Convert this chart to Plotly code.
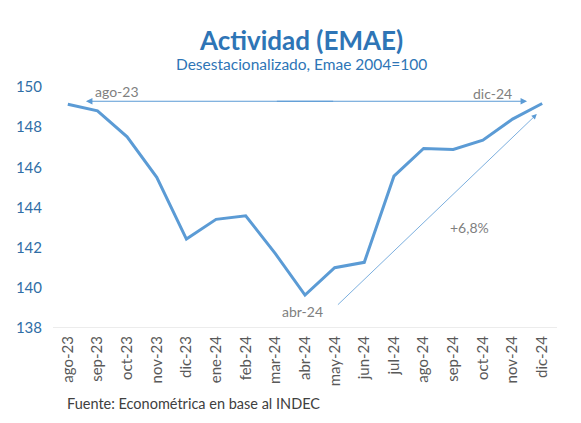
import plotly.graph_objects as go

# Data
months = ["ago-23", "sep-23", "oct-23", "nov-23", "dic-23", "ene-24", "feb-24", "mar-24",
          "abr-24", "may-24", "jun-24", "jul-24", "ago-24", "sep-24", "oct-24", "nov-24", "dic-24"]
emae = [149.14, 148.81, 147.52, 145.5, 142.43, 143.41, 143.59, 141.7,
        139.64, 141.0, 141.27, 145.56, 146.94, 146.89, 147.35, 148.4, 149.18]
y_ticks = [138, 140, 142, 144, 146, 148, 150]

FONT = "Lato"
BLUE = "#5B9BD5"
GRAY = "#7F7F7F"

# page body has an 8px margin, so the figure is drawn 8px in from the corner
W, H = 573, 415
ML, MR, MT, MB = 45, 24, 79, 95
PW, PH = W - ML - MR, H - MT - MB


def px_x(x):
    return (x - 8 - ML) / PW


def px_y(y):
    return (H - MB - (y - 8)) / PH


def arrow(fig, x0, y0, x1, y1, width):
    # arrow from (x0, y0) to (x1, y1) in data units, head at the end
    fig.add_annotation(
        x=x1, y=y1, ax=x0, ay=y0,
        xref="x", yref="y", axref="x", ayref="y",
        text="", font=dict(size=1), showarrow=True, arrowhead=2,
        arrowsize=1.3, arrowwidth=width, arrowcolor=BLUE,
    )


def build_figure():
    fig = go.Figure()
    fig.add_trace(go.Scatter(
        x=months, y=emae, mode="lines",
        line=dict(color=BLUE, width=3),
        showlegend=False,
    ))

    # horizontal double arrow ago-23 <-> dic-24 (two halves that overlap)
    arrow(fig, 9.0, 149.29, 0.61, 149.29, 1)
    arrow(fig, 7.0, 149.29, 15.49, 149.29, 1)
    # diagonal arrow from abr-24 to dic-24
    arrow(fig, 9.06, 139.09, 15.82, 148.65, 0.8)

    labels = [("ago-23", 1.65, 149.79), ("dic-24", 14.31, 149.69),
              ("abr-24", 7.91, 138.8), ("+6,8%", 13.54, 142.98)]
    for txt, lx, ly in labels:
        fig.add_annotation(x=lx, y=ly, xref="x", yref="y", text=txt,
                           showarrow=False, font=dict(family=FONT, size=14, color=GRAY))

    fig.add_annotation(
        x=px_x(301), y=px_y(40), xref="paper", yref="paper", yanchor="middle",
        text="<b>Actividad (EMAE)</b>", showarrow=False,
        font=dict(family=FONT, size=26, color="#2E75B6"),
    )
    fig.add_annotation(
        x=px_x(301), y=px_y(64), xref="paper", yref="paper", yanchor="middle",
        text="Desestacionalizado, Emae 2004=100", showarrow=False,
        font=dict(family=FONT, size=15.5, color="#2E75B6"),
    )
    fig.add_annotation(
        x=px_x(65), y=px_y(403), xref="paper", yref="paper", xanchor="left",
        yanchor="middle", text="Fuente: Econométrica en base al INDEC", showarrow=False,
        font=dict(family=FONT, size=14.5, color="#404040"),
    )

    fig.update_layout(
        width=W, height=H,
        plot_bgcolor="white", paper_bgcolor="white",
        margin=dict(l=ML, r=MR, t=MT, b=MB, autoexpand=False),
        font=dict(family=FONT, size=13, color="#595959"),
    )

    fig.update_xaxes(
        type="category", range=[-0.5, 16.5], tickangle=-90, showgrid=False,
        zeroline=False, showline=False, ticks="", automargin=False,
        tickfont=dict(family=FONT, size=15, color="#595959"),
        ticklabelstandoff=4,
    )
    fig.update_yaxes(
        range=[138, 150], tickvals=y_ticks, showgrid=False, zeroline=False,
        showline=False, ticks="", ticklabelstandoff=10, automargin=False,
        tickfont=dict(family=FONT, size=15, color="#2F6EA6"),
    )
    fig.add_hline(y=138, line=dict(color="#D9D9D9", width=1))
    return fig


def main():
    fig = build_figure()
    fig.write_html("out.html")


if __name__ == "__main__":
    main()
